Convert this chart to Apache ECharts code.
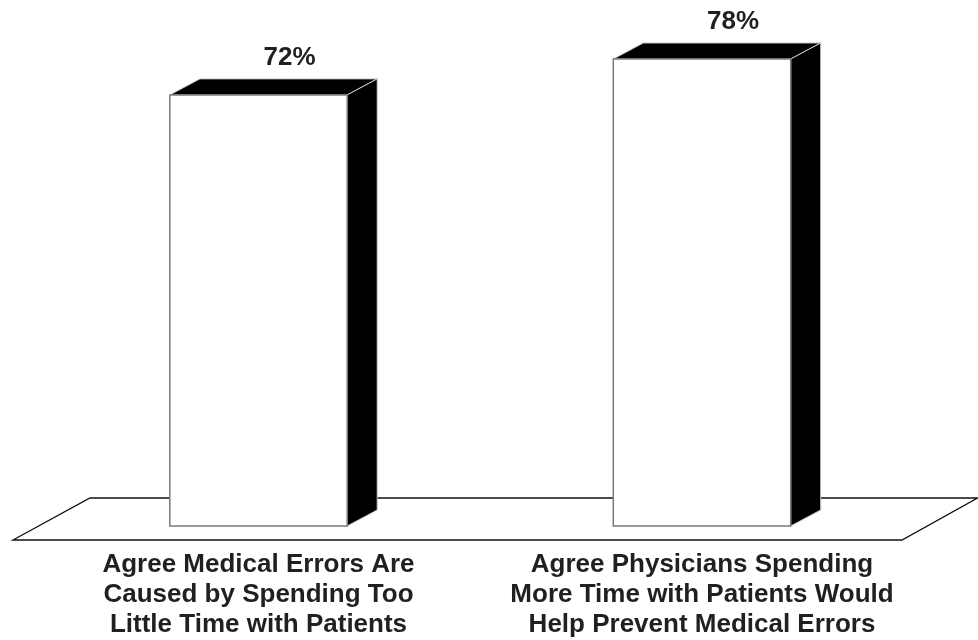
<!DOCTYPE html>
<html>
<head>
<meta charset="utf-8">
<style>
  html, body { margin: 0; padding: 0; background: #fff; }
  #chart { width: 978px; height: 640px; }
</style>
<script src="https://cdn.jsdelivr.net/npm/echarts@6/dist/echarts.min.js"></script>
</head>
<body>
<div id="chart"></div>
<script>
const categories = [
  'Agree Medical Errors Are\nCaused by Spending Too\nLittle Time with Patients',
  'Agree Physicians Spending\nMore Time with Patients Would\nHelp Prevent Medical Errors'
];
const values = [72, 78];

const TEXT = '#231f20';
const FONT = '"Liberation Sans", Arial, Helvetica, sans-serif';

// depth of the pseudo-3D extrusion (px)
const DEPTH_X = 30;
const DEPTH_Y = -16;

function renderBar(params, api) {
  const idx = api.value(0);
  const v = api.value(1);
  const top = api.coord([idx, v]);
  const base = api.coord([idx, 0]);
  const band = api.size([1, 0])[0];
  const w = band * 0.4;
  const l = top[0] - w / 2;
  const r = top[0] + w / 2;
  const t = top[1];
  const b = base[1];
  return {
    type: 'group',
    children: [
      {
        type: 'polygon',
        shape: { points: [[l, t], [l + DEPTH_X, t + DEPTH_Y], [r + DEPTH_X, t + DEPTH_Y], [r, t]] },
        style: { fill: '#000', stroke: '#c8c8c8', lineWidth: 1 }
      },
      {
        type: 'polygon',
        shape: { points: [[r, t], [r + DEPTH_X, t + DEPTH_Y], [r + DEPTH_X, b + DEPTH_Y], [r, b]] },
        style: { fill: '#000', stroke: '#c8c8c8', lineWidth: 1 }
      },
      {
        type: 'rect',
        shape: { x: l, y: t, width: w, height: b - t },
        style: { fill: '#fff', stroke: '#7a7a7a', lineWidth: 1.5 }
      },
      {
        type: 'text',
        x: top[0] + 31,
        y: t - 37,
        style: {
          text: v + '%',
          fill: TEXT,
          font: 'bold 26px ' + FONT,
          align: 'center',
          verticalAlign: 'middle'
        }
      }
    ]
  };
}

const chart = echarts.init(document.getElementById('chart'), null, { renderer: 'canvas' });
chart.setOption({
  animation: false,
  backgroundColor: '#fff',
  grid: { left: 36.75, right: 54.25, top: 47, bottom: 113, containLabel: false },
  xAxis: {
    type: 'category',
    data: categories,
    axisLine: { show: false },
    axisTick: { show: false },
    splitLine: { show: false },
    axisLabel: {
      interval: 0,
      margin: 24,
      color: TEXT,
      fontFamily: FONT,
      fontWeight: 'bold',
      fontSize: 26,
      lineHeight: 30,
      align: 'center'
    }
  },
  yAxis: {
    type: 'value',
    min: 0,
    max: 80,
    show: false
  },
  // floor plane under the bars
  graphic: [{
    type: 'polygon',
    z: 0,
    shape: { points: [[13, 540], [90, 498], [977.5, 498], [902, 540]] },
    style: { fill: '#fff', stroke: '#111', lineWidth: 1.3 }
  }],
  series: [{
    type: 'custom',
    z: 5,
    renderItem: renderBar,
    encode: { x: 0, y: 1 },
    data: values.map((v, i) => [i, v])
  }]
});
</script>
</body>
</html>
